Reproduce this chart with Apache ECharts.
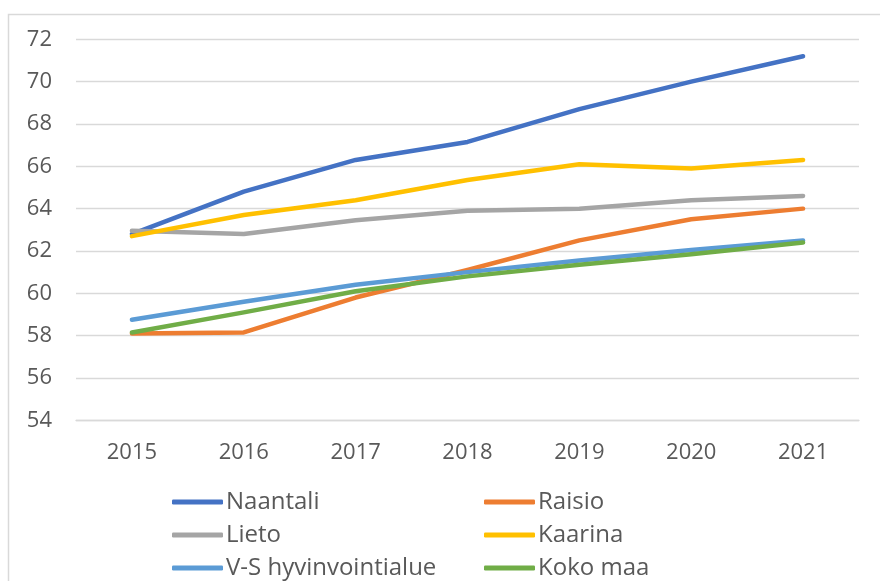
<!DOCTYPE html>
<html>
<head>
<meta charset="utf-8">
<script src="https://cdn.jsdelivr.net/npm/echarts@6/dist/echarts.min.js"></script>
<style>
html,body{margin:0;padding:0;background:#fff;}
#chart{width:880px;height:581px;}
</style>
</head>
<body>
<div id="chart"></div>
<script>
const years = ['2015','2016','2017','2018','2019','2020','2021'];
const yTicks = {min: 54, max: 72, interval: 2};

const naantali = [62.8, 64.8, 66.3, 67.15, 68.7, 70.0, 71.2];
const raisio   = [58.1, 58.15, 59.8, 61.1, 62.5, 63.5, 64.0];
const lieto    = [62.95, 62.8, 63.45, 63.9, 64.0, 64.4, 64.6];
const kaarina  = [62.7, 63.7, 64.4, 65.35, 66.1, 65.9, 66.3];
const vs       = [58.75, 59.6, 60.4, 61.0, 61.55, 62.05, 62.5];
const kokoMaa  = [58.15, 59.1, 60.1, 60.8, 61.35, 61.85, 62.4];

const names  = ['Naantali','Raisio','Lieto','Kaarina','V-S hyvinvointialue','Koko maa'];
const values = [naantali, raisio, lieto, kaarina, vs, kokoMaa];
const colors = ['#4472C4','#ED7D31','#A5A5A5','#FFC000','#5B9BD5','#70AD47'];

const FONT = '"Open Sans", "Noto Sans", sans-serif';
const chart = echarts.init(document.getElementById('chart'), null, {renderer: 'canvas'});

const legendLeft = [172, 484];
const legendTop = [489, 522, 555];
const legends = names.map((n, i) => ({
  left: legendLeft[i % 2],
  top: legendTop[Math.floor(i / 2)],
  padding: 0,
  data: [n],
  itemWidth: 51,
  itemHeight: 5,
  icon: 'roundRect',
  textStyle: {fontFamily: FONT, fontSize: 24, color: '#595959', lineHeight: 26, padding: [0,0,0,-2]},
  selectedMode: false
}));

chart.setOption({
  animation: false,
  backgroundColor: '#ffffff',
  color: colors,
  graphic: [{
    type: 'rect',
    shape: {x: 8.5, y: 14.5, width: 900, height: 600},
    style: {fill: 'none', stroke: '#d9d9d9', lineWidth: 1.5},
    silent: true, z: -1
  }],
  grid: {left: 76, right: 21, top: 39.3, bottom: 160.7, containLabel: false},
  legend: legends,
  xAxis: {
    type: 'category',
    data: years,
    boundaryGap: true,
    axisLine: {show: true, lineStyle: {color: '#d9d9d9', width: 1.3}},
    axisTick: {show: false},
    axisLabel: {fontFamily: FONT, fontSize: 22, color: '#595959', margin: 21}
  },
  yAxis: {
    type: 'value',
    min: yTicks.min, max: yTicks.max, interval: yTicks.interval,
    axisLine: {show: false},
    axisTick: {show: false},
    splitLine: {lineStyle: {color: '#d9d9d9', width: 1.3}},
    axisLabel: {fontFamily: FONT, fontSize: 22, color: '#595959', margin: 24}
  },
  series: names.map((n, i) => ({
    name: n,
    type: 'line',
    data: values[i],
    showSymbol: false,
    symbol: 'none',
    lineStyle: {width: 4.5, color: colors[i], cap: 'round', join: 'round'},
    itemStyle: {color: colors[i]}
  }))
});
</script>
</body>
</html>
